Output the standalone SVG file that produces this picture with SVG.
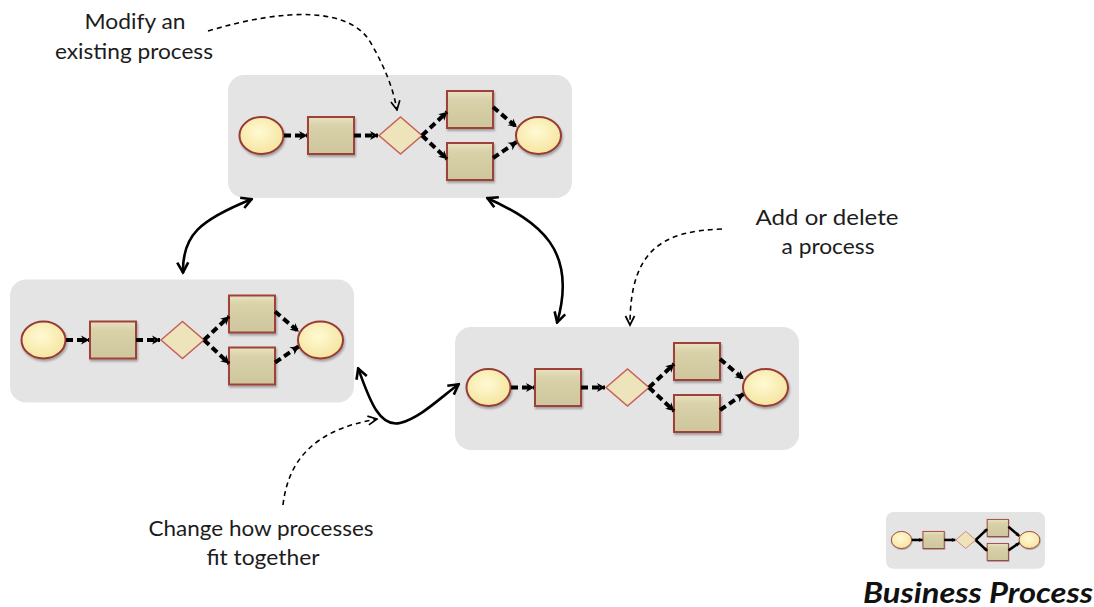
<svg xmlns="http://www.w3.org/2000/svg" xmlns:xlink="http://www.w3.org/1999/xlink" width="1094" height="607" viewBox="0 0 1094 607">
  <style>
    .panel { fill: #E4E4E4; stroke: none; }
    .event { fill: url(#gEvent); stroke: #993B36; stroke-width: 2; stroke-dasharray: none; filter: url(#soft); }
    .task { fill: url(#gTask); stroke: #A0403B; stroke-width: 2; stroke-dasharray: none; filter: url(#soft); }
    .gateway { fill: #EDE4BB; stroke: #C8605A; stroke-width: 1.5; stroke-dasharray: none; }
    /* flow width and dash pattern come from the enclosing node group */
    .flow path { fill: none; stroke: #000; marker-end: url(#flowHead); }
    .tip { fill: #000; stroke: none; stroke-dasharray: none; }
    .link { fill: none; stroke: #000; stroke-width: 2.6; marker-start: url(#linkHead); marker-end: url(#linkHead); }
    .note { fill: none; stroke: #000; stroke-width: 1.6; stroke-dasharray: 5 4; marker-end: url(#noteHead); }
    .label { font-family: Lato, "Liberation Sans", sans-serif; font-size: 22px; fill: #1c1c1c; text-anchor: middle; }
    .title { font-family: Lato, "Liberation Sans", sans-serif; font-size: 28px; font-weight: bold; font-style: italic; fill: #111; }
  </style>
  <defs>
    <radialGradient id="gEvent" cx="0.45" cy="0.4" r="0.65">
      <stop offset="0" stop-color="#FFFAD4"/>
      <stop offset="1" stop-color="#F5E39C"/>
    </radialGradient>
    <linearGradient id="gTask" x1="0" y1="0" x2="0" y2="1">
      <stop offset="0" stop-color="#E8E2C0"/>
      <stop offset="0.25" stop-color="#D8D1A9"/>
      <stop offset="1" stop-color="#CEC79D"/>
    </linearGradient>
    <filter id="soft" x="-20%" y="-20%" width="150%" height="150%">
      <feDropShadow dx="1" dy="2" stdDeviation="1.2" flood-color="#000" flood-opacity="0.3"/>
    </filter>
    <marker id="flowHead" viewBox="0 0 10 10" refX="9" refY="5" markerWidth="10" markerHeight="10" markerUnits="userSpaceOnUse" orient="auto">
      <path class="tip" d="M1,0.5 L9.5,5 L1,9.5 L3.5,5 Z"/>
    </marker>
    <marker id="linkHead" viewBox="0 0 14 14" refX="12.5" refY="7" markerWidth="14" markerHeight="14" markerUnits="userSpaceOnUse" orient="auto-start-reverse">
      <path d="M2,1.5 L12,7 L2,12.5" fill="none" stroke="#000" stroke-width="2.6" stroke-dasharray="none"/>
    </marker>
    <marker id="noteHead" viewBox="0 0 12 12" refX="10.5" refY="6" markerWidth="12" markerHeight="12" markerUnits="userSpaceOnUse" orient="auto">
      <path d="M1.5,1.5 L10.5,6 L1.5,10.5" fill="none" stroke="#000" stroke-width="1.7" stroke-dasharray="none"/>
    </marker>

    <!-- one process: start event, task, gateway, two parallel tasks, end event -->
    <g id="process">
      <rect class="panel" x="0" y="0" width="344" height="123" rx="16"/>
      <ellipse class="event" cx="33.5" cy="60.5" rx="22" ry="18.5"/>
      <rect class="task" x="80" y="42" width="46" height="37"/>
      <path class="gateway" d="M151,60.5 L172.5,42 L194,60.5 L172.5,79 Z"/>
      <rect class="task" x="219" y="16" width="46" height="37"/>
      <rect class="task" x="219" y="68" width="46" height="37"/>
      <ellipse class="event" cx="310.5" cy="60.5" rx="22.5" ry="18.5"/>
      <g class="flow">
        <path d="M56,60.5 H79"/>
        <path d="M126,60.5 H150"/>
        <path d="M194,60.5 L219,37"/>
        <path d="M194,60.5 L219,84"/>
        <path d="M265,32 L288.5,52"/>
        <path d="M265,83 L288.5,67"/>
      </g>
    </g>
  </defs>

  <g id="process-top" style="stroke-width:4; stroke-dasharray:7 4">
    <use xlink:href="#process" href="#process" x="228" y="75"/>
  </g>
  <g id="process-left" style="stroke-width:4; stroke-dasharray:7 4">
    <use xlink:href="#process" href="#process" x="10" y="279.5"/>
  </g>
  <g id="process-right" style="stroke-width:4; stroke-dasharray:7 4">
    <use xlink:href="#process" href="#process" x="455" y="327"/>
  </g>
  <g id="legend" style="stroke-width:5.5">
    <use xlink:href="#process" href="#process" transform="translate(886 512) scale(0.462)"/>
    <text class="title" x="863" y="603" textLength="230" lengthAdjust="spacingAndGlyphs">Business Process</text>
  </g>

  <g id="connectors">
    <path class="link" d="M183,273 C182,235 200,220 252,199"/>
    <path class="link" d="M487,198 C540,222 578,250 557,323"/>
    <path class="link" d="M358,368 C368,395 378,428 400,423 C420,418 440,398 459,384"/>
    <path class="note" d="M208,31 C285,8 352,6 372,45 C385,68 393,88 397,110"/>
    <path class="note" d="M722,229 C662,231 630,250 630,325"/>
    <path class="note" d="M283,505 C288,462 312,430 377,419"/>
  </g>

  <g id="annotations">
    <text class="label" x="135" y="29" textLength="101" lengthAdjust="spacingAndGlyphs">Modify an</text>
    <text class="label" x="134" y="59" textLength="158" lengthAdjust="spacingAndGlyphs">existing process</text>
    <text class="label" x="827" y="225" textLength="143" lengthAdjust="spacingAndGlyphs">Add or delete</text>
    <text class="label" x="828" y="254" textLength="93" lengthAdjust="spacingAndGlyphs">a process</text>
    <text class="label" x="261" y="536" textLength="225" lengthAdjust="spacingAndGlyphs">Change how processes</text>
    <text class="label" x="263" y="565" textLength="113" lengthAdjust="spacingAndGlyphs">fit together</text>
  </g>
</svg>
